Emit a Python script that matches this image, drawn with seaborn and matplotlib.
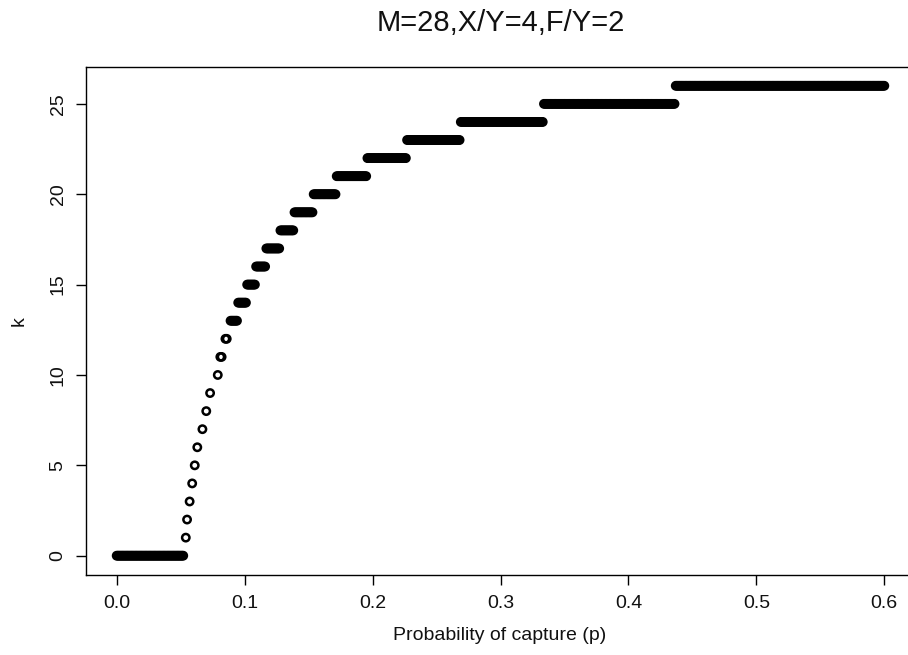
import numpy as np
import pandas as pd
import matplotlib
matplotlib.use("Agg")
import matplotlib.pyplot as plt
import seaborn as sns

# Values
title = "M=28,X/Y=4,F/Y=2"
x_label = "Probability of capture (p)"
y_label = "k"
# each k level is plotted over a run of p values (sampled every 0.001)
k_levels = list(range(0, 27))
p_start = [0.000, 0.054, 0.055, 0.057, 0.059, 0.061, 0.063, 0.067, 0.070,
           0.073, 0.079, 0.081, 0.085, 0.089, 0.095, 0.102, 0.109, 0.117,
           0.128, 0.139, 0.154, 0.172, 0.196, 0.227, 0.269, 0.334, 0.437]
p_end = [0.052, 0.054, 0.055, 0.057, 0.059, 0.061, 0.063, 0.067, 0.070,
         0.073, 0.079, 0.082, 0.086, 0.094, 0.101, 0.108, 0.116, 0.127,
         0.138, 0.153, 0.171, 0.195, 0.226, 0.268, 0.333, 0.436, 0.600]
p_step = 0.001
x_ticks = [0.0, 0.1, 0.2, 0.3, 0.4, 0.5, 0.6]
x_tick_labels = ["0.0", "0.1", "0.2", "0.3", "0.4", "0.5", "0.6"]
y_ticks = [0, 5, 10, 15, 20, 25]

rows = []
for kv, a, b in zip(k_levels, p_start, p_end):
    n = int(round((b - a) / p_step)) + 1
    for i in range(n):
        rows.append((round(a + i * p_step, 4), kv))
df = pd.DataFrame(rows, columns=["p", "k"])

sns.set_theme(style="ticks")
plt.rcParams["font.family"] = ["Liberation Sans", "DejaVu Sans"]

W, H = 908, 655
fig = plt.figure(figsize=(W / 100, H / 100), dpi=100)
fig.patch.set_facecolor("white")
L, R, T, B = 86, 915, 67, 574.5
ax = fig.add_axes([L / W, 1 - B / H, (R - L) / W, (B - T) / H])
ax.set_facecolor("white")

sns.scatterplot(data=df, x="p", y="k", ax=ax, marker="o", s=28,
                facecolor="none", edgecolor="black", linewidth=1.8,
                legend=False)

ax.set_xlim(-0.024, 0.624)
ax.set_ylim(-1.04, 27.04)
ax.set_xticks(x_ticks)
ax.set_xticklabels(x_tick_labels)
ax.set_yticks(y_ticks)
ax.set_yticklabels([str(v) for v in y_ticks], rotation=90, va="center")

for s in ax.spines.values():
    s.set_visible(True)
    s.set_color("black")
    s.set_linewidth(1.0)

ax.tick_params(axis="x", length=7, width=1, color="black", pad=8,
               labelsize=14, labelcolor="#111111")
ax.tick_params(axis="y", length=7, width=1, color="black", pad=7,
               labelsize=14, labelcolor="#111111")
ax.grid(False)

ax.set_xlabel(x_label, fontsize=14, color="#111111")
ax.set_ylabel(y_label, fontsize=14, color="#111111")
ax.xaxis.set_label_coords((500 - L) / (R - L), -(636 - B) / (B - T))
ax.yaxis.set_label_coords(-(86 - 19) / (R - L), 0.5)
ax.xaxis.label.set_va("center")
ax.yaxis.label.set_va("center")

ax.text(0.5, 1 + (67 - 23) / (B - T), title, transform=ax.transAxes,
        ha="center", va="center", fontsize=21, color="#111111")

fig.savefig("out.png", dpi=100, facecolor="white")
